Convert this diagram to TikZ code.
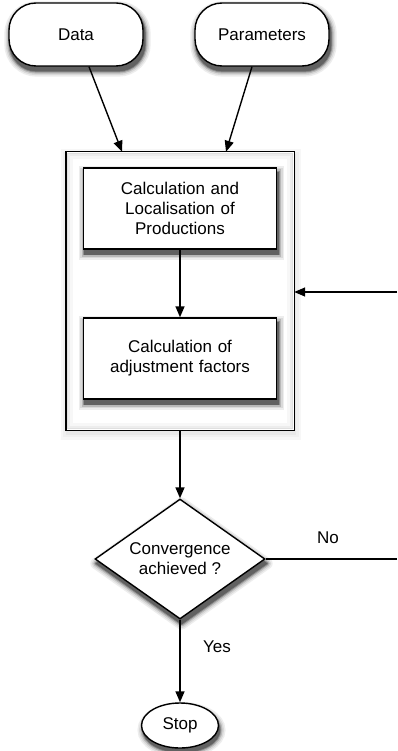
\documentclass[tikz,border=0pt]{standalone}
\usepackage{fontspec}
\setmainfont{Liberation Sans}
\usetikzlibrary{arrows.meta,shapes.geometric,calc}
\pgfdeclarelayer{bgwhite}
\pgfdeclarelayer{outershadow}
\pgfdeclarelayer{outerbox}
\pgfdeclarelayer{innershadow}
\pgfsetlayers{bgwhite,outershadow,outerbox,innershadow,main}
\newcommand{\shadowlayers}{7/11,15/8,28/5,45/2.5,62/0.5}
\newcommand{\rectshadow}[2]{%
  \foreach \c/\w in \shadowlayers {%
    \filldraw[black!\c,line width=\w pt,rounded corners=#2]
      ($(#1.north west)+(1.5,4.5)$) rectangle ($(#1.south east)+(1.5,4.5)$);}}
\begin{document}
\begin{tikzpicture}[x=1pt,y=-1pt,
  font=\fontsize{17}{19.8}\selectfont,
  base/.style={draw=black,line width=1.4pt,fill=white,inner sep=0pt,align=center},
  term/.style={base,rounded corners=27pt,minimum width=134pt,minimum height=63pt},
  procbox/.style={base,minimum width=193pt,minimum height=81pt,text width=185pt},
  decision/.style={base,diamond,minimum width=170pt,minimum height=120pt,aspect=1.4167},
  stopnode/.style={base,ellipse,minimum width=77pt,minimum height=45pt},
  arr/.style={line width=1.4pt,-{Triangle[length=11pt,width=9pt]}},
  lbl/.style={inner sep=0pt}
]
\useasboundingbox (0,0) rectangle (397,751);

% outer container (drawn on lower layers)
\node[inner sep=0pt,minimum width=228pt,minimum height=278pt] (outer) at (180,291) {};

\node[term] (data) at (76,34.5) {Data};
\node[term] (param) at (262,34.5) {Parameters};

\node[procbox] (calc1) at (180,208.5) {Calculation and\\Localisation of\\Productions};
\node[procbox] (calc2) at (180,358.5) {Calculation of\\adjustment factors};

\node[decision] (conv) at (180,559) {Convergence\\achieved ?};
\node[stopnode] (stop) at (180,725.5) {Stop};

\begin{pgfonlayer}{bgwhite}
  \fill[white] (0,0) rectangle (397,751);
\end{pgfonlayer}

\begin{pgfonlayer}{outershadow}
  \foreach \c/\w in {3/12,6/7,9/2.5} {%
    \filldraw[black!\c,line width=\w pt]
      ($(outer.north west)+(1,3.5)$) rectangle ($(outer.south east)+(1,3.5)$);}
\end{pgfonlayer}

\begin{pgfonlayer}{outerbox}
  \fill[white] (outer.north west) rectangle (outer.south east);
  \fill[black!12] ($(outer.north west)+(0.8,0.8)$) rectangle ($(outer.south east)+(-0.8,-0.8)$);
  \fill[black!7] ($(outer.north west)+(2.5,2.5)$) rectangle ($(outer.south east)+(-2.5,-2.5)$);
  \fill[black!3] ($(outer.north west)+(4.5,4.5)$) rectangle ($(outer.south east)+(-4.5,-4.5)$);
  \fill[white] ($(outer.north west)+(7,7)$) rectangle ($(outer.south east)+(-7,-7)$);
  \draw[line width=1.4pt] (outer.north west) rectangle (outer.south east);
\end{pgfonlayer}

\begin{pgfonlayer}{innershadow}
  \rectshadow{data}{27pt}
  \rectshadow{param}{27pt}
  \rectshadow{calc1}{0pt}
  \rectshadow{calc2}{0pt}
  \foreach \c/\w in \shadowlayers {%
    \filldraw[black!\c,line width=\w pt,line join=round]
      ($(conv.north)+(1.5,4.5)$) -- ($(conv.east)+(1.5,4.5)$) --
      ($(conv.south)+(1.5,4.5)$) -- ($(conv.west)+(1.5,4.5)$) -- cycle;
    \filldraw[black!\c,line width=\w pt]
      ($(stop.center)+(1.5,4.5)$) ellipse [x radius=38.5, y radius=22.5];}
\end{pgfonlayer}

\coordinate (loopin) at (397,292);
\coordinate (noend) at (397,559);

\draw[arr] ($(data.south)+(13,0)$) -- ($(outer.north)+(-58,0)$);
\draw[arr] ($(param.south)+(-10,0)$) -- ($(outer.north)+(46,0)$);
\draw[arr] (calc1.south) -- (calc2.north);
\draw[arr] (loopin) -- (loopin -| outer.east);
\draw[arr] (outer.south -| conv.north) -- (conv.north);
\draw[line width=1.4pt] (conv.east) -- (noend);
\draw[arr] (conv.south) -- (stop.north);

\node[lbl] (nolbl) at (328,538) {No};
\node[lbl] (yeslbl) at (217,647) {Yes};
\end{tikzpicture}
\end{document}
